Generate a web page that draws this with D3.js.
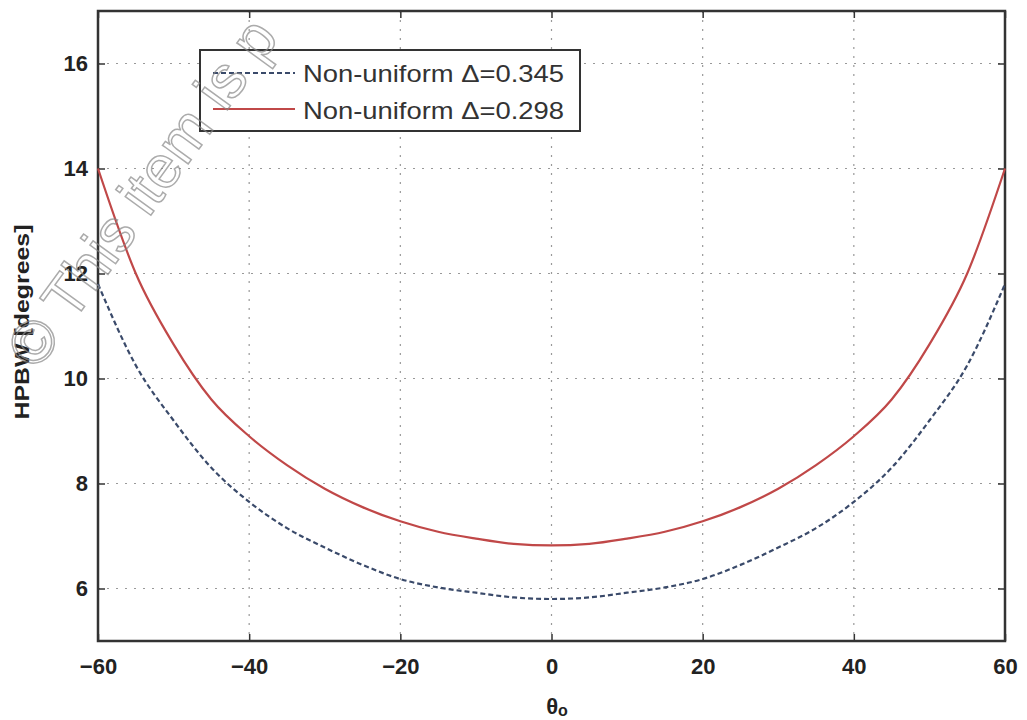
<!DOCTYPE html>
<html><head><meta charset="utf-8">
<script src="https://cdn.jsdelivr.net/npm/d3@7"></script>
<style>body{margin:0;background:#fff}svg{display:block}</style>
</head><body>
<svg id="c" width="1027" height="720"></svg>
<script>
const angles = [-60,-55,-50,-45,-40,-35,-30,-25,-20,-15,-10,-5,0,5,10,15,20,25,30,35,40,45,50,55,60];
const hpbw345 = [11.8,10.25,9.2,8.3,7.65,7.15,6.78,6.45,6.18,6.02,5.92,5.83,5.8,5.83,5.92,6.02,6.18,6.45,6.78,7.15,7.65,8.3,9.2,10.25,11.8];
const hpbw298 = [14.0,12.0,10.65,9.6,8.9,8.35,7.9,7.55,7.28,7.08,6.95,6.85,6.82,6.85,6.95,7.08,7.28,7.55,7.9,8.35,8.9,9.6,10.65,12.0,14.0];
const xTicks = [-60,-40,-20,0,20,40,60];
const yTicks = [6,8,10,12,14,16];
const seriesNames = ["Non-uniform \u0394=0.345","Non-uniform \u0394=0.298"];

const svg = d3.select("#c");
const L=98, R=1005, T=11, B=641;
const x = d3.scaleLinear().domain([-60,60]).range([L,R]);
const y = d3.scaleLinear().domain([5,17]).range([B,T]);

// grid
const g = svg.append("g");
g.selectAll(".gx").data(xTicks.slice(1,-1)).join("line")
 .attr("x1",d=>x(d)).attr("x2",d=>x(d)).attr("y1",T).attr("y2",B)
 .attr("stroke","#999").attr("stroke-width",1.2).attr("stroke-dasharray","2,7");
g.selectAll(".gy").data(yTicks).join("line")
 .attr("y1",d=>y(d)).attr("y2",d=>y(d)).attr("x1",L).attr("x2",R)
 .attr("stroke","#999").attr("stroke-width",1.2).attr("stroke-dasharray","2,7");

// axes
const font = "'Liberation Sans', Arial, sans-serif";
const ax = svg.append("g").attr("transform",`translate(0,${B})`)
 .call(d3.axisBottom(x).tickValues(xTicks).tickSizeInner(-7).tickSizeOuter(0).tickPadding(17));
const ay = svg.append("g").attr("transform",`translate(${L},0)`)
 .call(d3.axisLeft(y).tickValues(yTicks).tickSizeInner(-7).tickSizeOuter(0).tickPadding(10));
const axT = svg.append("g").attr("transform",`translate(0,${T})`)
 .call(d3.axisTop(x).tickValues(xTicks).tickSizeInner(-7).tickSizeOuter(0).tickFormat(""));
const ayR = svg.append("g").attr("transform",`translate(${R},0)`)
 .call(d3.axisRight(y).tickValues(yTicks).tickSizeInner(-7).tickSizeOuter(0).tickFormat(""));
[ax,ay,axT,ayR].forEach(a=>{
  a.select(".domain").remove();
  a.selectAll(".tick line").attr("stroke","#333").attr("stroke-width",1.5);
  a.selectAll(".tick text").attr("font-family",font).attr("font-weight","bold")
   .attr("font-size",22).attr("fill","#222");
});
svg.append("rect").attr("x",L).attr("y",T).attr("width",R-L).attr("height",B-T)
 .attr("fill","none").attr("stroke","#333").attr("stroke-width",2.5);

// lines
const line = d3.line().x(d=>x(d[0])).y(d=>y(d[1])).curve(d3.curveMonotoneX);
svg.append("path").datum(angles.map((a,i)=>[a,hpbw345[i]]))
 .attr("d",line).attr("fill","none").attr("stroke","#3a4a6a").attr("stroke-width",2.2)
 .attr("stroke-dasharray","5,3");
svg.append("path").datum(angles.map((a,i)=>[a,hpbw298[i]]))
 .attr("d",line).attr("fill","none").attr("stroke","#c04848").attr("stroke-width",2.2);

// legend
const lg = svg.append("g");
lg.append("rect").attr("x",200).attr("y",50).attr("width",380).attr("height",81)
 .attr("fill","#fff").attr("stroke","#333").attr("stroke-width",2);
lg.append("line").attr("x1",213).attr("x2",295).attr("y1",73).attr("y2",73)
 .attr("stroke","#3a4a6a").attr("stroke-width",2).attr("stroke-dasharray","5,3");
lg.append("line").attr("x1",213).attr("x2",295).attr("y1",109).attr("y2",109)
 .attr("stroke","#c04848").attr("stroke-width",2);
lg.selectAll("text").data(seriesNames).join("text")
 .attr("x",303).attr("y",(d,i)=>82+i*37).text(d=>d)
 .attr("textLength",261).attr("lengthAdjust","spacingAndGlyphs")
 .attr("font-family",font).attr("font-size",24).attr("fill","#333");

// axis labels
svg.append("text").attr("transform",`translate(29,${322}) rotate(-90)`)
 .attr("text-anchor","middle").attr("font-family",font).attr("font-weight","bold")
 .attr("font-size",21).attr("fill","#222")
 .attr("textLength",195).attr("lengthAdjust","spacingAndGlyphs").text("HPBW [degrees]");
const xl = svg.append("text").attr("x",557).attr("y",714).attr("text-anchor","middle")
 .attr("font-family",font).attr("font-weight","bold").attr("font-size",22).attr("fill","#222");
xl.append("tspan").text("\u03b8");
xl.append("tspan").attr("font-size",16).attr("dy",2).text("o");

// watermark
svg.append("text").attr("transform","translate(37,372) rotate(-54)")
 .attr("font-family",font).attr("font-size",60).attr("fill","none")
 .attr("stroke","#888").attr("stroke-width",1.5).attr("opacity",0.7)
 .text("\u00a9 This item is p");
</script>
</body></html>
